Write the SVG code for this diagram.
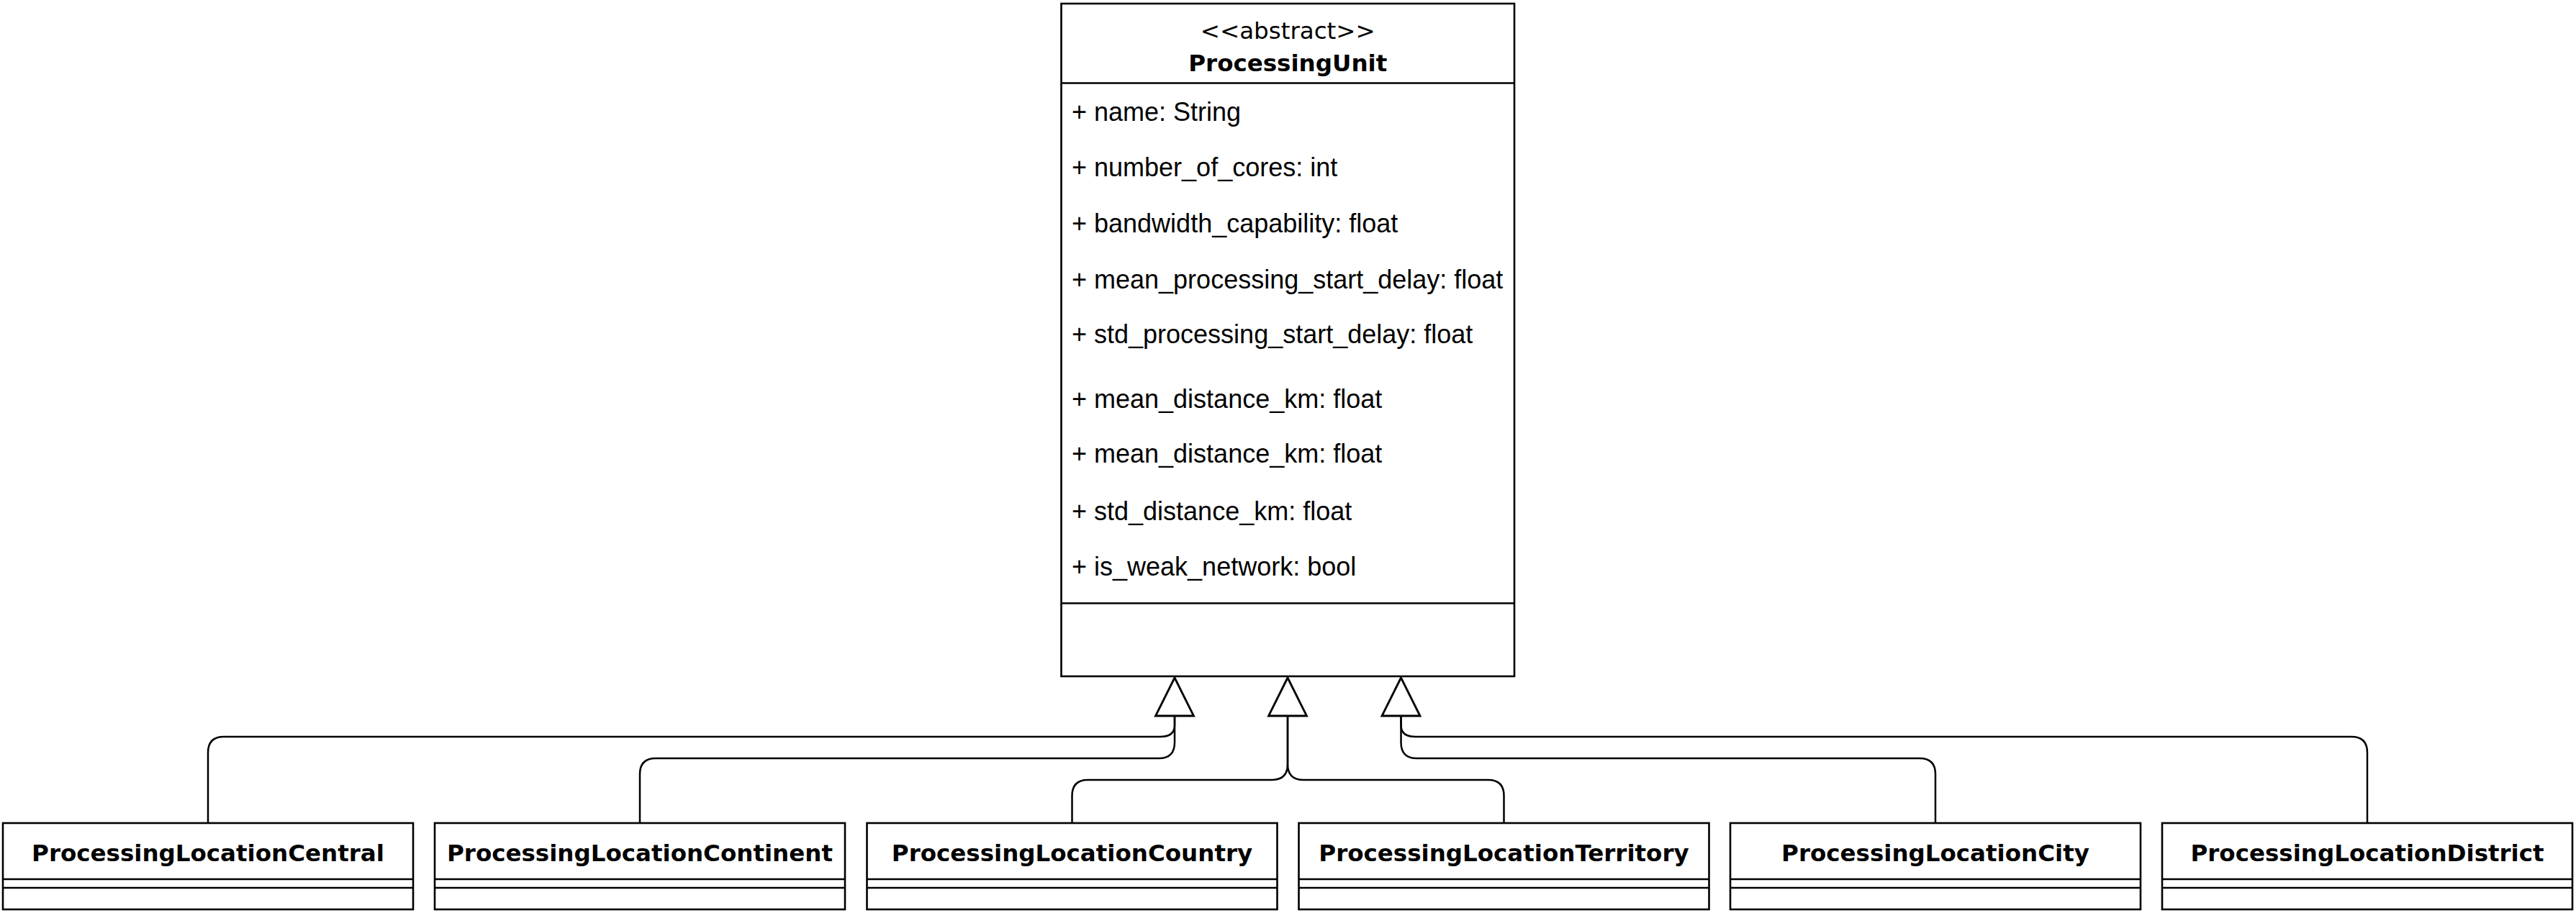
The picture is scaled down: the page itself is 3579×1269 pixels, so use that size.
<svg xmlns="http://www.w3.org/2000/svg" width="3579" height="1269" viewBox="0 0 3579 1269">
<style>
.box{fill:#fff;stroke:#000;stroke-width:2.6}
.ln{fill:none;stroke:#000;stroke-width:2.6}
.edge{fill:none;stroke:#000;stroke-width:2.5}
.tri{fill:#fff;stroke:#000;stroke-width:2.8;stroke-linejoin:miter}
.stereo{font-family:"DejaVu Sans",sans-serif;font-size:32.5px;text-anchor:middle;fill:#000}
.title{font-family:"DejaVu Sans",sans-serif;font-size:32.5px;font-weight:bold;text-anchor:middle;fill:#000}
.attr{font-family:"Liberation Sans",Arial,sans-serif;font-size:36px;fill:#000}
</style>
<rect width="3579" height="1269" fill="#fff"/>
<g id="ProcessingUnit">
<rect class="box" x="1474.5" y="5" width="629.5" height="935"/>
<line class="ln" x1="1474.5" y1="115.5" x2="2104" y2="115.5"/>
<line class="ln" x1="1474.5" y1="838.5" x2="2104" y2="838.5"/>
<text class="stereo" x="1789.25" y="53.5">&lt;&lt;abstract&gt;&gt;</text>
<text class="title" x="1789.25" y="98.5">ProcessingUnit</text>
<text class="attr" x="1489" y="168">+ name: String</text>
<text class="attr" x="1489" y="245">+ number_of_cores: int</text>
<text class="attr" x="1489" y="323">+ bandwidth_capability: float</text>
<text class="attr" x="1489" y="401">+ mean_processing_start_delay: float</text>
<text class="attr" x="1489" y="477">+ std_processing_start_delay: float</text>
<text class="attr" x="1489" y="567">+ mean_distance_km: float</text>
<text class="attr" x="1489" y="643">+ mean_distance_km: float</text>
<text class="attr" x="1489" y="722.5">+ std_distance_km: float</text>
<text class="attr" x="1489" y="800">+ is_weak_network: bool</text>
</g>
<g id="ProcessingLocationCentral">
<rect class="box" x="4" y="1144" width="570" height="120"/>
<line class="ln" x1="4" y1="1222" x2="574" y2="1222"/>
<line class="ln" x1="4" y1="1234" x2="574" y2="1234"/>
<text class="title" x="289" y="1197">ProcessingLocationCentral</text>
</g>
<g id="ProcessingLocationContinent">
<rect class="box" x="604" y="1144" width="570" height="120"/>
<line class="ln" x1="604" y1="1222" x2="1174" y2="1222"/>
<line class="ln" x1="604" y1="1234" x2="1174" y2="1234"/>
<text class="title" x="889" y="1197">ProcessingLocationContinent</text>
</g>
<g id="ProcessingLocationCountry">
<rect class="box" x="1204.5" y="1144" width="570" height="120"/>
<line class="ln" x1="1204.5" y1="1222" x2="1774.5" y2="1222"/>
<line class="ln" x1="1204.5" y1="1234" x2="1774.5" y2="1234"/>
<text class="title" x="1489.5" y="1197">ProcessingLocationCountry</text>
</g>
<g id="ProcessingLocationTerritory">
<rect class="box" x="1804.5" y="1144" width="570" height="120"/>
<line class="ln" x1="1804.5" y1="1222" x2="2374.5" y2="1222"/>
<line class="ln" x1="1804.5" y1="1234" x2="2374.5" y2="1234"/>
<text class="title" x="2089.5" y="1197">ProcessingLocationTerritory</text>
</g>
<g id="ProcessingLocationCity">
<rect class="box" x="2404" y="1144" width="570" height="120"/>
<line class="ln" x1="2404" y1="1222" x2="2974" y2="1222"/>
<line class="ln" x1="2404" y1="1234" x2="2974" y2="1234"/>
<text class="title" x="2689" y="1197">ProcessingLocationCity</text>
</g>
<g id="ProcessingLocationDistrict">
<rect class="box" x="3004" y="1144" width="570" height="120"/>
<line class="ln" x1="3004" y1="1222" x2="3574" y2="1222"/>
<line class="ln" x1="3004" y1="1234" x2="3574" y2="1234"/>
<text class="title" x="3289" y="1197">ProcessingLocationDistrict</text>
</g>
<g id="connectors">
<path class="edge" d="M289,1144 V1046 Q289,1024 311,1024 H1612 Q1632,1024 1632,1008 V995"/>
<path class="edge" d="M889,1144 V1076 Q889,1054 911,1054 H1610 Q1632,1054 1632,1032 V995"/>
<path class="edge" d="M1489.5,1144 V1106 Q1489.5,1084 1511.5,1084 H1767 Q1789,1084 1789,1062 V995"/>
<path class="edge" d="M2089.5,1144 V1106 Q2089.5,1084 2067.5,1084 H1811 Q1789,1084 1789,1062 V995"/>
<path class="edge" d="M2689,1144 V1076 Q2689,1054 2667,1054 H1968.5 Q1946.5,1054 1946.5,1032 V995"/>
<path class="edge" d="M3289,1144 V1046 Q3289,1024 3267,1024 H1966.5 Q1946.5,1024 1946.5,1008 V995"/>
<polygon class="tri" points="1632,942 1605.5,995 1658.5,995"/>
<polygon class="tri" points="1789,942 1762.5,995 1815.5,995"/>
<polygon class="tri" points="1946.5,942 1920,995 1973,995"/>
</g>
</svg>
